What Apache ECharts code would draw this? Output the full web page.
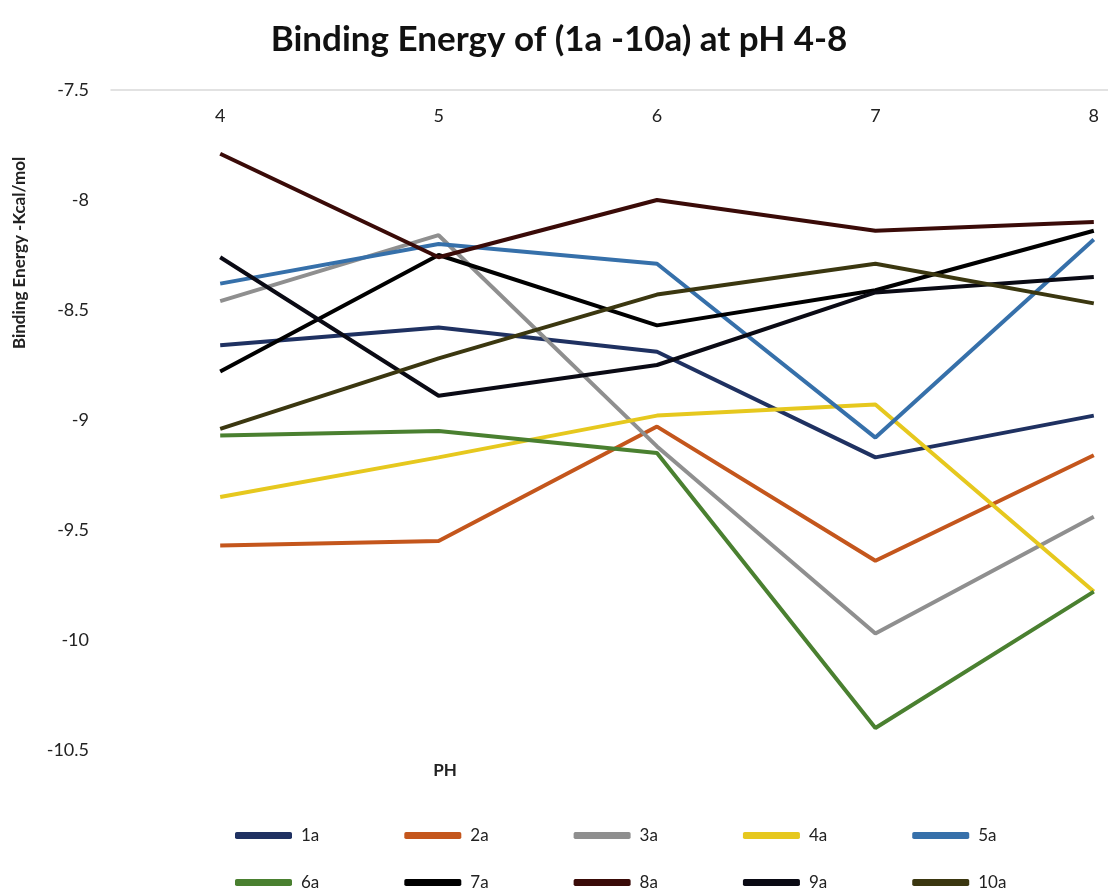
<!DOCTYPE html>
<html>
<head>
<meta charset="utf-8">
<script src="https://cdn.jsdelivr.net/npm/echarts@6/dist/echarts.min.js"></script>
<style>html,body{margin:0;padding:0;background:#fff;overflow:hidden;}#c{width:1210px;height:893px;}</style>
</head>
<body>
<div id="c"></div>
<script>
const categories = ['4', '5', '6', '7', '8'];
const seriesNames = ['1a', '2a', '3a', '4a', '5a', '6a', '7a', '8a', '9a', '10a'];
const s1a = [-8.66, -8.58, -8.69, -9.17, -8.98];
const s2a = [-9.57, -9.55, -9.03, -9.64, -9.16];
const s3a = [-8.46, -8.16, -9.12, -9.97, -9.44];
const s4a = [-9.35, -9.17, -8.98, -8.93, -9.78];
const s5a = [-8.38, -8.20, -8.29, -9.08, -8.18];
const s6a = [-9.07, -9.05, -9.15, -10.40, -9.78];
const s7a = [-8.78, -8.25, -8.57, -8.41, -8.14];
const s8a = [-7.79, -8.26, -8.00, -8.14, -8.10];
const s9a = [-8.26, -8.89, -8.75, -8.42, -8.35];
const s10a = [-9.04, -8.72, -8.43, -8.29, -8.47];
const seriesValues = [s1a, s2a, s3a, s4a, s5a, s6a, s7a, s8a, s9a, s10a];
const colors = ['#1F3161', '#C4561C', '#8F8F8F', '#E6C81E', '#3670AA', '#4A8030', '#000000', '#3A0B08', '#0A0A14', '#3B3710'];

const chart = echarts.init(document.getElementById('c'));
const legendCommon = {
  icon: 'roundRect',
  itemWidth: 57,
  itemHeight: 7,
  itemGap: 85,
  left: 230,
  textStyle: { fontFamily: 'Lato', fontSize: 17, color: '#222', width: 30, padding: [0, 0, 0, 4] }
};
chart.setOption({
  animation: false,
  backgroundColor: '#ffffff',
  color: colors,
  title: {
    text: 'Binding Energy of (1a -10a) at pH 4-8',
    left: 554,
    textAlign: 'center',
    top: 17,
    textStyle: { fontFamily: 'Lato', fontWeight: 'bold', fontSize: 35, color: '#111' }
  },
  legend: [
    Object.assign({ top: 822, data: seriesNames.slice(0, 5) }, legendCommon),
    Object.assign({ top: 869, data: seriesNames.slice(5) }, legendCommon)
  ],
  grid: { left: 111, right: 7, top: 90, bottom: 143, containLabel: false },
  xAxis: {
    type: 'category',
    position: 'top',
    data: categories,
    axisLine: { lineStyle: { color: '#D9D9D9', width: 1.5 } },
    axisTick: { inside: true, length: 14, lineStyle: { color: '#D9D9D9' } },
    axisLabel: { inside: true, margin: 17, fontFamily: 'Lato', fontSize: 18, color: '#222' },
    splitLine: { show: false }
  },
  yAxis: {
    type: 'value',
    min: -10.5,
    max: -7.5,
    interval: 0.5,
    axisLine: { show: false },
    axisTick: { show: false },
    splitLine: { show: false },
    axisLabel: { margin: 22, fontFamily: 'Lato', fontSize: 18, color: '#222' }
  },
  graphic: [
    {
      type: 'text', x: 20, y: 253, rotation: Math.PI / 2,
      style: { text: 'Binding Energy -Kcal/mol', textAlign: 'center', textVerticalAlign: 'middle',
        fontFamily: 'Lato', fontWeight: 'bold', fontSize: 17, fill: '#222' }
    },
    {
      type: 'text', x: 445, y: 771,
      style: { text: 'PH', textAlign: 'center', textVerticalAlign: 'middle',
        fontFamily: 'Lato', fontWeight: 'bold', fontSize: 17, fill: '#222' }
    }
  ],
  series: seriesNames.map((n, i) => ({
    name: n,
    type: 'line',
    data: seriesValues[i],
    symbol: 'none',
    lineStyle: { width: 4, color: colors[i] },
    itemStyle: { color: colors[i] }
  }))
});
</script>
</body>
</html>
